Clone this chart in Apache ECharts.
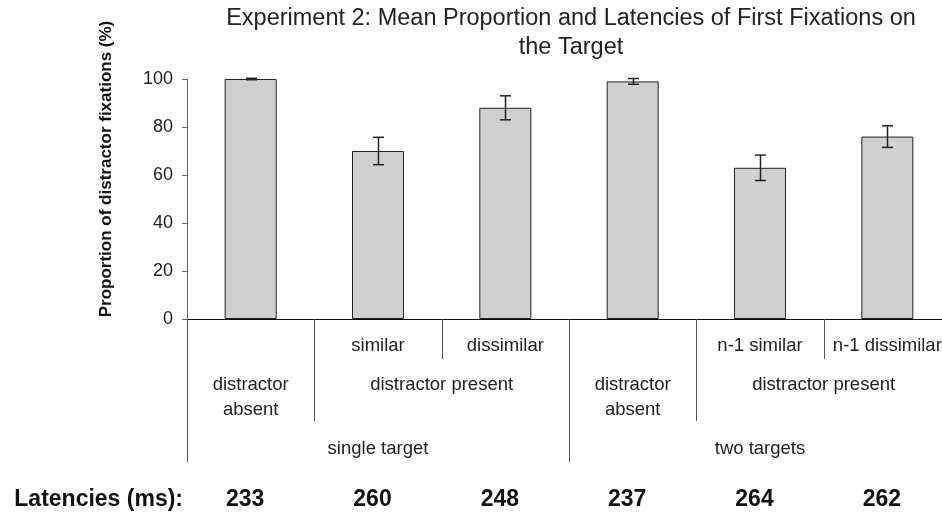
<!DOCTYPE html>
<html>
<head>
<meta charset="utf-8">
<script src="https://cdn.jsdelivr.net/npm/echarts@6/dist/echarts.min.js"></script>
<style>
  html, body { margin: 0; padding: 0; background: #fff; overflow: hidden; }
  /* the plot runs a little past the right edge of the picture */
  #main { width: 951px; height: 516px; }
</style>
</head>
<body>
<div id="main"></div>
<script>
// categories (one bar each)
const categories = ["single-absent", "single-similar", "single-dissimilar", "two-absent", "two-n1similar", "two-n1dissimilar"];
// mean proportion of distractor fixations (%)
const proportion = [100, 70, 88, 99, 63, 76];
// half length of the error bars
const errHalf = [0.3, 5.7, 5, 1.2, 5.3, 4.5];
// latencies row
const latencies = ["233", "260", "248", "237", "264", "262"];
// table under the axis: [label, first category, end category]
const level1 = [["similar", 1, 2], ["dissimilar", 2, 3], ["n-1 similar", 4, 5], ["n-1 dissimilar", 5, 6]];
const level2 = [["distractor\nabsent", 0, 1], ["distractor present", 1, 3], ["distractor\nabsent", 3, 4], ["distractor present", 4, 6]];
const level3 = [["single target", 0, 3], ["two targets", 3, 6]];
const yTicks = [0, 20, 40, 60, 80, 100];

const FONT = "'Liberation Sans', Arial, Helvetica, sans-serif";

// build table items
let tableLabels = [];
let tableData = [];
[level1, level2, level3].forEach(function (rows, r) {
  rows.forEach(function (it) {
    tableLabels.push(it[0]);
    tableData.push([it[1], it[2], r]);
  });
});
const lineDepth = [40, 102, 143]; // bottom of each table row under the axis
const textTop = [15, 54, 118];

let errData = proportion.map(function (v, i) {
  return [i, v - errHalf[i], v + errHalf[i]];
});

let chart = echarts.init(document.getElementById("main"));
let option = {
  animation: false,
  backgroundColor: "#fff",
  title: {
    text: "Experiment 2: Mean Proportion and Latencies of First Fixations on\nthe Target",
    left: 571,
    top: 4,
    padding: 0,
    textAlign: "center",
    textStyle: {
      fontFamily: FONT,
      fontSize: 23.5,
      fontWeight: "normal",
      color: "#222",
      lineHeight: 29
    }
  },
  grid: { left: 187, right: 0, top: 79, bottom: 197 },
  xAxis: [
    {
      type: "category",
      data: categories,
      axisLine: { show: true, lineStyle: { color: "#111", width: 1 } },
      axisTick: { show: false },
      axisLabel: { show: false },
      splitLine: { show: false }
    },
    {
      type: "category",
      data: latencies,
      position: "bottom",
      offset: 181,
      axisLine: { show: false },
      axisTick: { show: false },
      splitLine: { show: false },
      axisLabel: {
        margin: 0,
        verticalAlign: "middle",
        padding: [0, 11, 0, 0],
        fontFamily: FONT,
        fontSize: 23,
        fontWeight: "bold",
        color: "#111"
      },
      name: "Latencies (ms):",
      nameLocation: "start",
      nameGap: 4,
      nameTextStyle: {
        fontFamily: FONT,
        fontSize: 23,
        fontWeight: "bold",
        color: "#111"
      }
    }
  ],
  yAxis: {
    type: "value",
    min: 0,
    max: 100,
    interval: 20,
    axisLine: { show: true, lineStyle: { color: "#666", width: 1 } },
    axisTick: { show: true, length: 5, inside: false, lineStyle: { color: "#666" } },
    splitLine: { show: false },
    axisLabel: {
      margin: 14,
      fontFamily: FONT,
      fontSize: 18,
      color: "#222",
      formatter: function (v) { return yTicks.indexOf(v) >= 0 ? String(v) : ""; }
    }
  },
  graphic: [
    {
      type: "text",
      x: 106,
      y: 169,
      rotation: Math.PI / 2,
      style: {
        text: "Proportion of distractor fixations (%)",
        fontFamily: FONT,
        fontSize: 17,
        fontWeight: "bold",
        fill: "#111",
        align: "center",
        verticalAlign: "middle"
      }
    }
  ],
  series: [
    {
      name: "proportion",
      type: "bar",
      xAxisIndex: 0,
      data: proportion,
      barWidth: 52,
      itemStyle: { color: "#d0d0d0", borderColor: "#222", borderWidth: 1 }
    },
    {
      name: "error",
      type: "custom",
      xAxisIndex: 0,
      data: errData,
      encode: { x: 0, y: [1, 2] },
      z: 5,
      renderItem: function (params, api) {
        const lo = api.coord([api.value(0), api.value(1)]);
        const hi = api.coord([api.value(0), api.value(2)]);
        const x = Math.round(lo[0]) + 0.5;
        const hw = 5.5;
        const st = { stroke: "#222", lineWidth: 1.5 };
        return {
          type: "group",
          children: [
            { type: "line", shape: { x1: x, y1: lo[1], x2: x, y2: hi[1] }, style: st },
            { type: "line", shape: { x1: x - hw, y1: lo[1], x2: x + hw, y2: lo[1] }, style: st },
            { type: "line", shape: { x1: x - hw, y1: hi[1], x2: x + hw, y2: hi[1] }, style: st }
          ]
        };
      }
    },
    {
      name: "table",
      type: "custom",
      xAxisIndex: 0,
      data: tableData,
      encode: { x: 0 },
      clip: false,
      silent: true,
      renderItem: function (params, api) {
        const s = api.value(0);
        const e = api.value(1);
        const row = api.value(2);
        const bw = api.size([1, 0])[0];
        const y0 = api.coord([0, 0])[1];
        const xs = api.coord([s, 0])[0] - bw / 2;
        const xe = api.coord([e - 1, 0])[0] + bw / 2;
        const lx = Math.round(xs) + 0.5;
        return {
          type: "group",
          children: [
            {
              type: "line",
              shape: { x1: lx, y1: y0, x2: lx, y2: y0 + lineDepth[row] },
              style: { stroke: "#555", lineWidth: 1 }
            },
            {
              type: "text",
              x: (xs + xe) / 2,
              y: y0 + textTop[row],
              style: {
                text: tableLabels[params.dataIndex],
                fontFamily: FONT,
                fontSize: 18.5,
                fill: "#222",
                align: "center",
                textAlign: "center",
                verticalAlign: "top",
                textVerticalAlign: "top",
                lineHeight: 24.5
              }
            }
          ]
        };
      }
    }
  ]
};
option && chart.setOption(option);
</script>
</body>
</html>
